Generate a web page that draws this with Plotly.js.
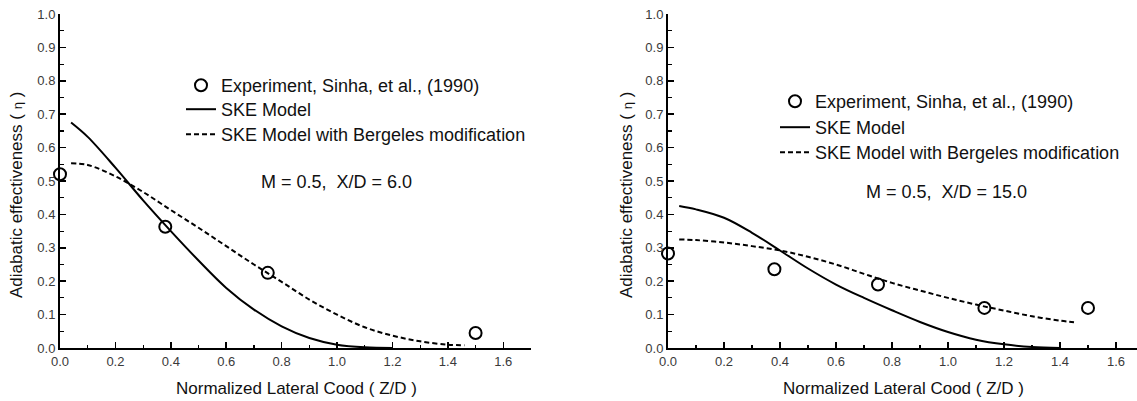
<!DOCTYPE html>
<html>
<head>
<meta charset="utf-8">
<script src="https://cdn.plot.ly/plotly-3.0.1.min.js"></script>
<style>html,body{margin:0;padding:0;background:#fff;}#chart{width:1137px;height:401px;}</style>
</head>
<body>
<div id="chart"></div>
<script>
// ---- data ----
// Left panel: M = 0.5, X/D = 6.0
const leftExpZD  = [0.0, 0.38, 0.75, 1.5];
const leftExpEta = [0.52, 0.363, 0.225, 0.045];
const leftSkeZD  = [0.04, 0.1, 0.2, 0.3, 0.4, 0.5, 0.6, 0.7, 0.8, 0.9, 1.0, 1.1, 1.2];
const leftSkeEta = [0.675, 0.632, 0.54, 0.442, 0.35, 0.262, 0.18, 0.115, 0.065, 0.03, 0.01, 0.002, 0.0];
const leftBerZD  = [0.04, 0.1, 0.2, 0.3, 0.4, 0.5, 0.6, 0.7, 0.8, 0.9, 1.0, 1.1, 1.2, 1.3, 1.4, 1.46];
const leftBerEta = [0.553, 0.548, 0.514, 0.467, 0.413, 0.36, 0.305, 0.25, 0.198, 0.145, 0.1, 0.062, 0.037, 0.02, 0.01, 0.008];

// Right panel: M = 0.5, X/D = 15.0
const rightExpZD  = [0.0, 0.38, 0.75, 1.13, 1.5];
const rightExpEta = [0.283, 0.236, 0.19, 0.12, 0.12];
const rightSkeZD  = [0.04, 0.1, 0.2, 0.3, 0.4, 0.5, 0.6, 0.7, 0.8, 0.9, 1.0, 1.1, 1.2, 1.3, 1.4];
const rightSkeEta = [0.425, 0.415, 0.39, 0.345, 0.292, 0.238, 0.19, 0.15, 0.113, 0.078, 0.048, 0.025, 0.011, 0.003, 0.0];
const rightBerZD  = [0.04, 0.1, 0.2, 0.3, 0.4, 0.5, 0.6, 0.7, 0.8, 0.9, 1.0, 1.1, 1.2, 1.3, 1.4, 1.45];
const rightBerEta = [0.325, 0.323, 0.316, 0.305, 0.292, 0.273, 0.25, 0.222, 0.195, 0.172, 0.15, 0.13, 0.112, 0.095, 0.082, 0.077];

const seriesNames = ["Experiment, Sinha, et al., (1990)", "SKE Model", "SKE Model with Bergeles modification"];
const panelLabels = ["M = 0.5,\u00a0 X/D = 6.0", "M = 0.5,\u00a0 X/D = 15.0"];
const xTitle = "Normalized Lateral Cood ( Z/D )";
const yTitle = "Adiabatic effectiveness ( <span style=\"font-size:13px\">η</span> )";

// ---- styles ----
const W = 1137, H = 401;
const FONT = "Liberation Sans, Arial, sans-serif";
const px = v => v / W;
const py = v => 1 - v / H;
const DASH = '5px,3px';

function expTrace(x, y, xa, ya, leg) {
  return {x: x, y: y, xaxis: xa, yaxis: ya, legend: leg, name: seriesNames[0], type: 'scatter', mode: 'markers',
    marker: {symbol: 'circle-open', size: 12, color: '#000', line: {width: 2, color: '#000'}}, cliponaxis: false};
}
function lineTrace(x, y, xa, ya, leg, name, dash) {
  return {x: x, y: y, xaxis: xa, yaxis: ya, legend: leg, name: name, type: 'scatter', mode: 'lines',
    line: {color: '#000', width: 2, dash: dash, shape: 'spline', smoothing: 1.0}, cliponaxis: false};
}

const data = [
  expTrace(leftExpZD, leftExpEta, 'x', 'y', 'legend'),
  lineTrace(leftSkeZD, leftSkeEta, 'x', 'y', 'legend2', seriesNames[1], 'solid'),
  lineTrace(leftBerZD, leftBerEta, 'x', 'y', 'legend3', seriesNames[2], DASH),
  expTrace(rightExpZD, rightExpEta, 'x2', 'y2', 'legend4'),
  lineTrace(rightSkeZD, rightSkeEta, 'x2', 'y2', 'legend5', seriesNames[1], 'solid'),
  lineTrace(rightBerZD, rightBerEta, 'x2', 'y2', 'legend6', seriesNames[2], DASH)
];

const tickFont = {family: FONT, size: 13, color: '#3a3a3a'};
function xAxis(domain, range, anchor) {
  return {domain: domain, range: range, anchor: anchor, showline: true, linecolor: '#000', linewidth: 2,
    showgrid: false, zeroline: false, ticks: 'inside', ticklen: 6, tickwidth: 1.5, tickcolor: '#000',
    tick0: 0, dtick: 0.2, tickformat: '.1f', tickfont: tickFont,
    minor: {ticks: 'inside', ticklen: 3.5, tickwidth: 1.2, tickcolor: '#000', dtick: 0.1, showgrid: false}};
}
function yAxis(domain, anchor) {
  return {domain: domain, range: [0, 1], anchor: anchor, showline: true, linecolor: '#000', linewidth: 2,
    showgrid: false, zeroline: false, ticks: 'inside', ticklen: 6, tickwidth: 1.5, tickcolor: '#000',
    tick0: 0, dtick: 0.1, tickformat: '.1f', tickfont: tickFont,
    minor: {ticks: 'inside', ticklen: 3.5, tickwidth: 1.2, tickcolor: '#000', dtick: 0.05, showgrid: false}};
}

const yDom = [py(348), py(14)];
const legFont = {family: FONT, size: 18, color: '#111'};
function leg(xPix, topPix) {
  return {x: px(xPix), y: py(topPix), xanchor: 'left', yanchor: 'top', font: legFont,
    bgcolor: 'rgba(0,0,0,0)', borderwidth: 0};
}
const annFont = {family: FONT, size: 18, color: '#111'};
const titleFont = {family: FONT, size: 17, color: '#111'};
const layout = {
  width: W, height: H, showlegend: true,
  margin: {l: 0, r: 0, t: 0, b: 0, pad: 0},
  paper_bgcolor: '#fff', plot_bgcolor: '#fff',
  font: {family: FONT, color: '#111'},
  xaxis: xAxis([px(60), px(531)], [0, 1.7], 'y'),
  yaxis: yAxis(yDom, 'x'),
  xaxis2: xAxis([px(668), 1], [0, 1.675], 'y2'),
  yaxis2: yAxis(yDom, 'x2'),
  legend: leg(181, 67), legend2: leg(181, 91), legend3: leg(181, 116),
  legend4: leg(775, 83), legend5: leg(775, 109), legend6: leg(775, 134),
  annotations: [
    {text: panelLabels[0], xref: 'paper', yref: 'paper', x: px(336), y: py(182), xanchor: 'center', yanchor: 'middle', showarrow: false, font: annFont},
    {text: panelLabels[1], xref: 'paper', yref: 'paper', x: px(946), y: py(192), xanchor: 'center', yanchor: 'middle', showarrow: false, font: annFont},
    {text: xTitle, xref: 'paper', yref: 'paper', x: px(296), y: py(388), xanchor: 'center', yanchor: 'middle', showarrow: false, font: titleFont},
    {text: xTitle, xref: 'paper', yref: 'paper', x: px(903), y: py(388), xanchor: 'center', yanchor: 'middle', showarrow: false, font: titleFont},
    {text: yTitle, xref: 'paper', yref: 'paper', x: px(16), y: py(195), xanchor: 'center', yanchor: 'middle', textangle: -90, showarrow: false, font: titleFont},
    {text: yTitle, xref: 'paper', yref: 'paper', x: px(626), y: py(195), xanchor: 'center', yanchor: 'middle', textangle: -90, showarrow: false, font: titleFont}
  ]
};

Plotly.newPlot('chart', data, layout, {displayModeBar: false, staticPlot: true});
</script>
</body>
</html>
